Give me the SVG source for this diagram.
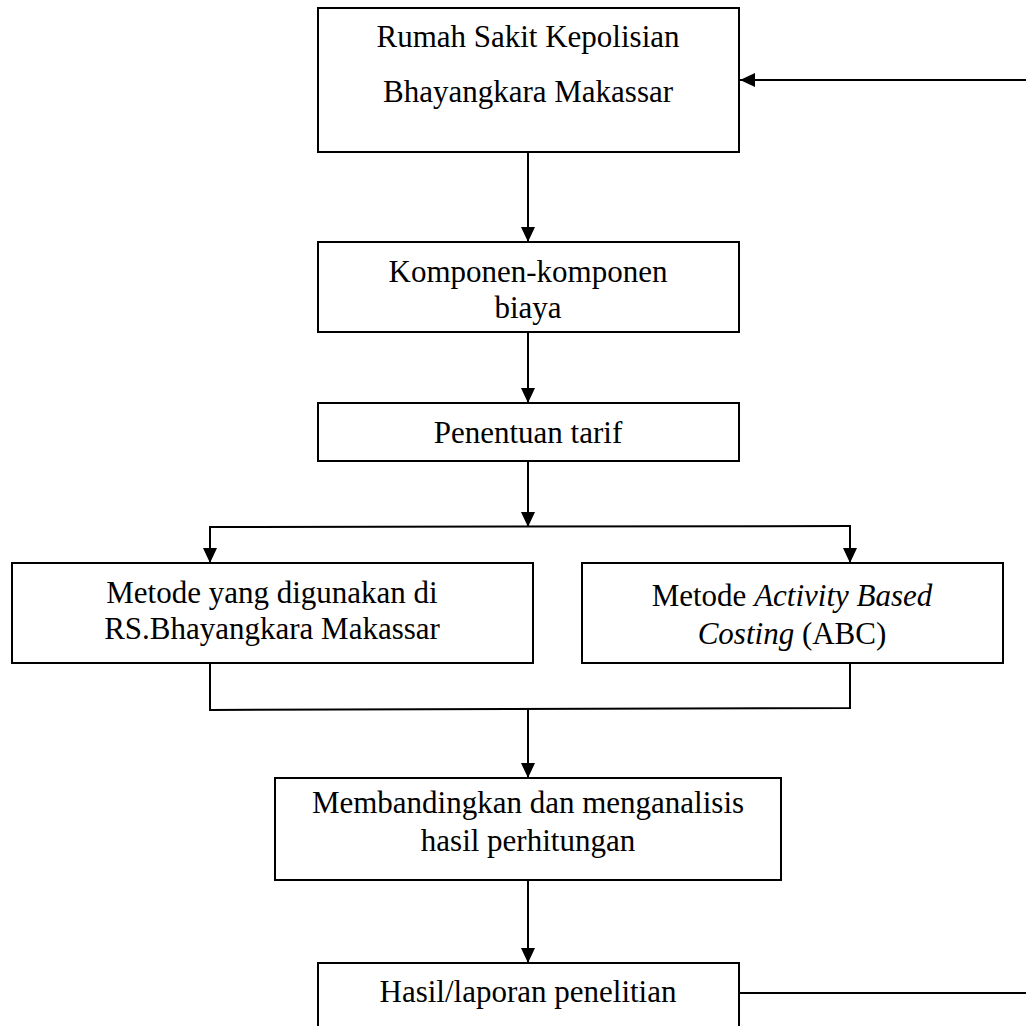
<svg xmlns="http://www.w3.org/2000/svg" width="1026" height="1026" viewBox="0 0 1026 1026">
<style>
.box{fill:#fff;stroke:#000;stroke-width:2}
.t{font-family:"Liberation Serif","Times New Roman",serif;font-size:31px;fill:#000;text-anchor:middle}
.i{font-style:italic}
.c{fill:none;stroke:#000;stroke-width:2}
</style>
<defs>
<marker id="ah" markerUnits="userSpaceOnUse" markerWidth="16" markerHeight="14" viewBox="0 0 16 14" refX="15" refY="7" orient="auto">
<path d="M0,0 L15,7 L0,14 Z" fill="#000"/>
</marker>
</defs>
<rect width="1026" height="1026" fill="#fff"/>
<g id="connectors">
<line class="c" x1="1026" y1="80" x2="740" y2="80" marker-end="url(#ah)"/>
<line class="c" x1="528" y1="152" x2="528" y2="242" marker-end="url(#ah)"/>
<line class="c" x1="528" y1="332" x2="528" y2="403" marker-end="url(#ah)"/>
<line class="c" x1="528" y1="461" x2="528" y2="527" marker-end="url(#ah)"/>
<line class="c" x1="209" y1="527" x2="851" y2="526"/>
<line class="c" x1="210" y1="527" x2="210" y2="563" marker-end="url(#ah)"/>
<line class="c" x1="850" y1="526" x2="850" y2="563" marker-end="url(#ah)"/>
<polyline class="c" points="210,663 210,710 850,708 850,663"/>
<line class="c" x1="528" y1="709" x2="528" y2="778" marker-end="url(#ah)"/>
<line class="c" x1="528" y1="880" x2="528" y2="963" marker-end="url(#ah)"/>
<line class="c" x1="739" y1="993" x2="1026" y2="993"/>
</g>
<g id="node-rumah-sakit">
<rect class="box" x="318" y="8" width="421" height="144"/>
<text class="t" x="528" y="47">Rumah Sakit Kepolisian</text>
<text class="t" x="528" y="102">Bhayangkara Makassar</text>
</g>
<g id="node-komponen">
<rect class="box" x="318" y="242" width="421" height="90"/>
<text class="t" x="528" y="282">Komponen-komponen</text>
<text class="t" x="528" y="318">biaya</text>
</g>
<g id="node-penentuan">
<rect class="box" x="318" y="403" width="421" height="58"/>
<text class="t" x="528" y="443">Penentuan tarif</text>
</g>
<g id="node-metode-rs">
<rect class="box" x="12" y="563" width="521" height="100"/>
<text class="t" x="272" y="603">Metode yang digunakan di</text>
<text class="t" x="272" y="639">RS.Bhayangkara Makassar</text>
</g>
<g id="node-metode-abc">
<rect class="box" x="582" y="563" width="421" height="100"/>
<text class="t" x="792" y="606">Metode <tspan class="i">Activity Based</tspan></text>
<text class="t" x="792" y="644"><tspan class="i">Costing</tspan> (ABC)</text>
</g>
<g id="node-membandingkan">
<rect class="box" x="275" y="778" width="506" height="102"/>
<text class="t" x="528" y="813">Membandingkan dan menganalisis</text>
<text class="t" x="528" y="851">hasil perhitungan</text>
</g>
<g id="node-hasil">
<rect class="box" x="318" y="963" width="421" height="80"/>
<text class="t" x="528" y="1002">Hasil/laporan penelitian</text>
</g>
</svg>
